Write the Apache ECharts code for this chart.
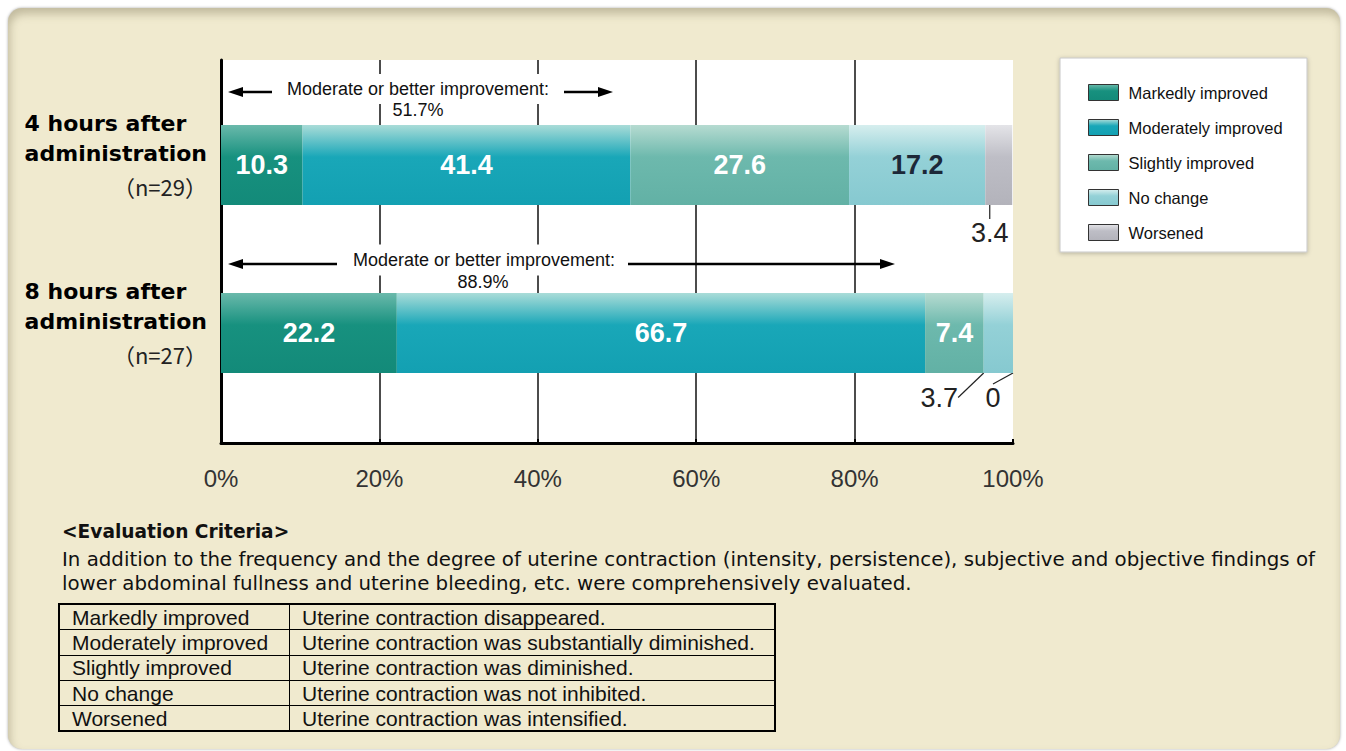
<!DOCTYPE html>
<html>
<head>
<meta charset="utf-8">
<script src="https://cdn.jsdelivr.net/npm/echarts@6/dist/echarts.min.js"></script>
<style>
html, body { margin: 0; padding: 0; width: 1346px; height: 751px; overflow: hidden; background: #fff; }
#panel {
  position: absolute; left: 8px; top: 8px; width: 1332px; height: 741px;
  background: #f0eacf; border-radius: 14px;
  box-shadow: 0 0 3px rgba(0,0,0,.35), inset 2px 6px 9px rgba(110,100,70,.35);
}
#main { position: absolute; left: 0; top: 0; width: 1346px; height: 505px; }
#criteria { position: absolute; left: 62px; top: 519px; color: #111; font-family: 'Liberation Sans', Arial, sans-serif; }
#criteria h4 { margin: 0; font: bold 18.6px 'DejaVu Sans', sans-serif; line-height: 26px; }
#criteria p { margin: 3px 0 0 0; font: 19.8px 'DejaVu Sans', sans-serif; line-height: 24px; white-space: nowrap; }
#criteria table { border-collapse: collapse; margin: 7px 0 0 -4px; font-size: 21px; border: 2px solid #000; }
#criteria td { border: 1.5px solid #000; height: 24.3px; line-height: 23px; padding: 0 12px; white-space: nowrap; }
#criteria td:first-child { width: 205px; }
#criteria td:last-child { width: 460px; }
</style>
</head>
<body>
<div id="panel"></div>
<div id="main"></div>
<div id="criteria">
  <h4>&lt;Evaluation Criteria&gt;</h4>
  <p>In addition to the frequency and the degree of uterine contraction (intensity, persistence), subjective and objective findings of<br>lower abdominal fullness and uterine bleeding, etc. were comprehensively evaluated.</p>
  <table id="crit"></table>
</div>
<script>
// data
const categories = ['4 hours after administration', '8 hours after administration']
const sampleSizes = ['n=29', 'n=27']
const seriesNames = ['Markedly improved', 'Moderately improved', 'Slightly improved', 'No change', 'Worsened']
const markedly = [10.3, 22.2]
const moderately = [41.4, 66.7]
const slightly = [27.6, 7.4]
const noChange = [17.2, 3.7]
const worsened = [3.4, 0]
const criteriaText = [
  'Uterine contraction disappeared.',
  'Uterine contraction was substantially diminished.',
  'Uterine contraction was diminished.',
  'Uterine contraction was not inhibited.',
  'Uterine contraction was intensified.'
]

// table
document.getElementById('crit').innerHTML = seriesNames.map((n, i) =>
  '<tr><td>' + n + '</td><td>' + criteriaText[i] + '</td></tr>').join('')

const FONT = "'Liberation Sans', Arial, sans-serif"

// bar colours: top highlight -> body
const colours = [
  ['#6ab9ab', '#17917f', '#138a79'],
  ['#a9dcd8', '#19a7b8', '#13a0b2'],
  ['#b6dbd1', '#6db9ad', '#62b1a5'],
  ['#d6eeee', '#94d1d7', '#86c9d0'],
  ['#e4e4e8', '#bebec6', '#b3b3bb']
]
const grad = (c) => new echarts.graphic.LinearGradient(0, 0, 0, 1, [
  { offset: 0, color: c[0] }, { offset: 0.4, color: c[1] }, { offset: 1, color: c[2] }
])

// where the small labels go (pixel shift from under the bar)
const leaderOffsets = { '3-1': [-59, 6], '4-0': [-9, 9], '4-1': [-20, 6] }

const outsideLabel = { show: true, position: 'bottom', color: '#222', fontWeight: 'normal', fontSize: 27, fontFamily: FONT }

const allData = [markedly, moderately, slightly, noChange, worsened]

const series = allData.map((vals, s) => ({
  name: seriesNames[s],
  type: 'bar',
  stack: 'total',
  xAxisIndex: 1,
  yAxisIndex: 1,
  barWidth: 80,
  itemStyle: { color: grad(colours[s]) },
  label: {
    show: true, position: 'inside', fontSize: 27, fontWeight: 'bold', fontFamily: FONT,
    color: s === 3 ? '#1c2838' : '#fff'
  },
  labelLayout: function (p) {
    const o = leaderOffsets[p.seriesIndex + '-' + p.dataIndex]
    return o ? { dx: o[0], dy: o[1] } : {}
  },
  data: vals.map((v) => v < 5 ? {
    value: v, label: outsideLabel,
    labelLine: { show: true, lineStyle: { color: '#222', width: 1.2 } }
  } : v)
}))

const chart = echarts.init(document.getElementById('main'), null, { renderer: 'svg' })

const improved = (i) => (markedly[i] + moderately[i]).toFixed(1) + '%'

const annText = (x, y, t, bg) => ({
  type: 'text', z: 50,
  style: {
    text: t, x: x, y: y, align: 'center', verticalAlign: 'middle',
    fontSize: 18, fontFamily: FONT, fill: '#111',
    backgroundColor: bg ? '#fff' : null, padding: bg || 0
  }
})
const arrow = (x1, x2, y) => {
  const dir = x2 > x1 ? 1 : -1
  return [
    { type: 'line', z: 50, shape: { x1: x1, y1: y, x2: x2 - dir * 10, y2: y }, style: { stroke: '#000', lineWidth: 2.5 } },
    { type: 'polygon', z: 50, shape: { points: [[x2, y], [x2 - dir * 15, y - 5], [x2 - dir * 15, y + 5]] }, style: { fill: '#000' } }
  ]
}

const option = {
  animation: false,
  grid: [
    { left: 221, top: 60, width: 792, height: 383, show: true, backgroundColor: '#fff', borderWidth: 0, outerBoundsMode: 'none' },
    { left: 221, top: 81, width: 792, height: 336, outerBoundsMode: 'none' }
  ],
  xAxis: [
    {
      type: 'value', gridIndex: 0, min: 0, max: 100, interval: 20,
      axisLine: { show: true, lineStyle: { color: '#000', width: 3 } },
      axisTick: { show: true, inside: true, length: 4, lineStyle: { color: '#000', width: 2 } },
      axisLabel: { formatter: '{value}%', fontSize: 24, color: '#333', margin: 23, fontFamily: FONT },
      splitLine: { show: true, showMaxLine: false, lineStyle: { color: '#111', width: 1.5 } }
    },
    { type: 'value', gridIndex: 1, min: 0, max: 100, show: false }
  ],
  yAxis: [
    {
      type: 'category', gridIndex: 0, data: categories,
      axisLine: { show: true, lineStyle: { color: '#000', width: 3 } },
      axisTick: { show: false }, axisLabel: { show: false }, splitLine: { show: false }
    },
    {
      type: 'category', gridIndex: 1, data: categories, inverse: true,
      axisLine: { show: false }, axisTick: { show: false },
      axisLabel: {
        margin: 14, align: 'right', padding: [0, 0, 18, 0],
        formatter: function (v, i) {
          const parts = v.split(' after ')
          return '{b|' + parts[0] + ' after}\n{b|' + parts[1] + '}\n{n|（' + sampleSizes[i] + '）}'
        },
        rich: {
          b: { fontSize: 22, fontWeight: 'bold', fontFamily: "'DejaVu Sans', sans-serif", color: '#000', lineHeight: 30, align: 'left' },
          n: { fontSize: 22, fontFamily: "'Noto Sans CJK JP', 'DejaVu Sans', sans-serif", color: '#222', lineHeight: 36, align: 'right' }
        }
      }
    }
  ],
  legend: {
    data: seriesNames, orient: 'vertical', left: 1083, top: 79,
    itemWidth: 30, itemHeight: 16, itemGap: 18, icon: 'rect',
    itemStyle: { borderColor: '#333', borderWidth: 1 },
    textStyle: { fontSize: 16.5, color: '#111', fontFamily: FONT, padding: [0, 0, 0, 5] }
  },
  graphic: [
    {
      type: 'rect', z: -1, shape: { x: 1060, y: 58, width: 247, height: 194 },
      style: { fill: '#fff', stroke: '#c8c8c8', lineWidth: 1, shadowBlur: 4, shadowColor: 'rgba(0,0,0,0.25)', shadowOffsetY: 1 }
    },
    annText(418, 89, 'Moderate or better improvement:', [3, 6, 9, 6]),
    annText(418, 110, improved(0)),
    ...arrow(272, 228, 92),
    ...arrow(564, 613, 92),
    annText(484, 260, 'Moderate or better improvement:', [3, 6, 10, 6]),
    annText(483, 282, improved(1)),
    ...arrow(337, 228, 264),
    ...arrow(628, 895, 264)
  ],
  series: series
}
chart.setOption(option)
</script>
</body>
</html>
